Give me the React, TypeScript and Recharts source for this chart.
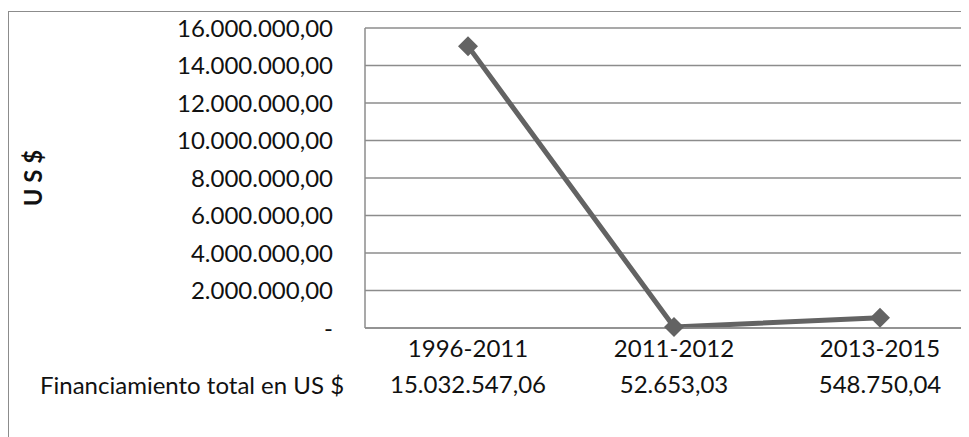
import React from 'react';
import { LineChart, Line, XAxis, YAxis, CartesianGrid } from 'recharts';

const periods = ['1996-2011', '2011-2012', '2013-2015'];
const financiamiento = [15032547.06, 52653.03, 548750.04];
const yTicks = [0, 2000000, 4000000, 6000000, 8000000, 10000000, 12000000, 14000000, 16000000];
const seriesName = 'Financiamiento total en US $';
const axisTitle = 'U S $';

const FONT = 'Lato, "Open Sans", sans-serif';
const GRAY = '#8c8c8c';
const LINE = '#636363';
const FS = 24;

// 15032547.06 -> "15.032.547,06"
const fmt = (v: number) => {
    const [int, dec] = v.toFixed(2).split('.');
    return int.replace(/\B(?=(\d{3})+(?!\d))/g, '.') + ',' + dec;
};

const data = periods.map((p, i) => ({ period: p, value: financiamiento[i], tabla: fmt(financiamiento[i]) }));

const Diamond = (props: any) => {
    const { cx, cy, index } = props;
    if (cx == null || cy == null) return null;
    const r = 10;
    return <path key={`d-${index}`} d={`M${cx},${cy - r}L${cx + r},${cy}L${cx},${cy + r}L${cx - r},${cy}Z`} fill={LINE} />;
};

const App: React.FC = () => {
    return (
        <div style={{ paddingTop: 3, width: 961, overflow: 'hidden' }}>
            <div style={{ position: 'relative', width: 1000, height: 440, border: `1px solid ${GRAY}`, boxSizing: 'border-box', fontFamily: FONT }}>
                <LineChart width={974} height={425} data={data} margin={{ top: 16, right: 0, bottom: 33, left: 0 }}>
                    <CartesianGrid horizontal vertical={false} stroke={GRAY} strokeWidth={1.5} />
                    <XAxis
                        dataKey="period"
                        scale="band"
                        height={36}
                        tickSize={0}
                        tickMargin={12}
                        axisLine={{ stroke: GRAY, strokeWidth: 1.5 }}
                        tick={{ fill: '#111', fontSize: FS, fontFamily: FONT }}
                    />
                    <XAxis
                        xAxisId="tabla"
                        dataKey="tabla"
                        scale="band"
                        height={40}
                        tickSize={0}
                        tickMargin={12}
                        axisLine={false}
                        tick={{ fill: '#111', fontSize: FS, fontFamily: FONT }}
                    />
                    <YAxis
                        width={356}
                        domain={[0, 16000000]}
                        ticks={yTicks}
                        tickSize={0}
                        tickMargin={32}
                        axisLine={{ stroke: GRAY, strokeWidth: 1.5 }}
                        tick={{ fill: '#111', fontSize: FS, fontFamily: FONT }}
                        tickFormatter={(v: number) => (v === 0 ? '-' : fmt(v))}
                        label={{
                            content: ({ viewBox }: any) => {
                                const x = viewBox.x + 23;
                                const y = viewBox.y + viewBox.height / 2;
                                return (
                                    <text x={x} y={y} transform={`rotate(-90, ${x}, ${y})`} textAnchor="middle" dominantBaseline="central" fontSize={FS} fontWeight="bold" fontFamily={FONT} fill="#111">
                                        {axisTitle}
                                    </text>
                                );
                            },
                        }}
                    />
                    <Line type="linear" dataKey="value" stroke={LINE} strokeWidth={5} dot={<Diamond />} activeDot={false} isAnimationActive={false} />
                </LineChart>
                <div style={{ position: 'absolute', left: 31, top: 358, fontSize: FS, color: '#111', whiteSpace: 'nowrap' }}>{seriesName}</div>
            </div>
        </div>
    );
};

export default App;
